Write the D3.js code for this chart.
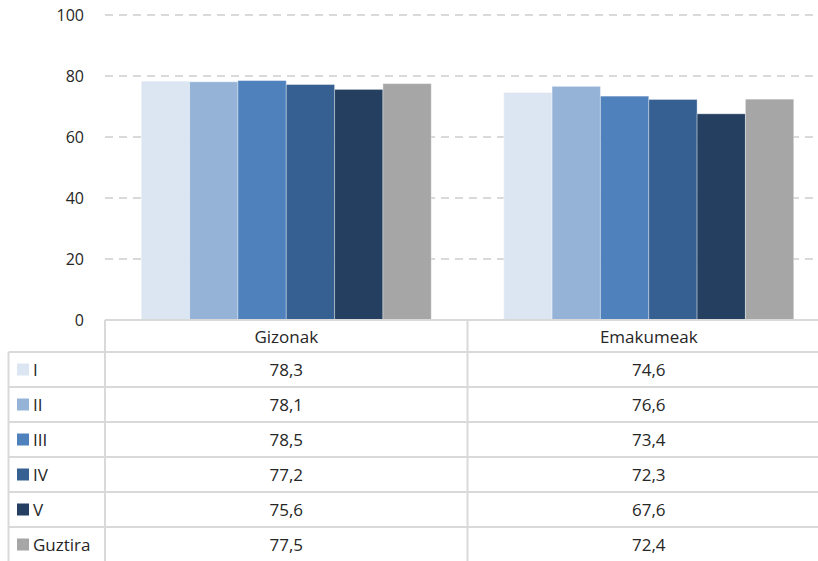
<!DOCTYPE html>
<html>
<head>
<meta charset="utf-8">
<script src="https://cdn.jsdelivr.net/npm/d3@7"></script>
<style>
  html, body { margin: 0; padding: 0; background: #fff; }
  svg { display: block; }
  text { font-family: "Open Sans", "Lato", sans-serif; fill: #262626; }
</style>
</head>
<body>
<svg id="chart" width="818" height="561"></svg>
<script>
const categories = ["Gizonak", "Emakumeak"];
const seriesNames = ["I", "II", "III", "IV", "V", "Guztira"];
const valuesI = [78.3, 74.6];
const valuesII = [78.1, 76.6];
const valuesIII = [78.5, 73.4];
const valuesIV = [77.2, 72.3];
const valuesV = [75.6, 67.6];
const valuesGuztira = [77.5, 72.4];
const yTicks = [0, 20, 40, 60, 80, 100];
const colors = ["#dce6f2", "#95b3d7", "#4f81bd", "#366092", "#243f60", "#a6a6a6"];

const seriesValues = [valuesI, valuesII, valuesIII, valuesIV, valuesV, valuesGuztira];
const series = seriesNames.map((n, i) => ({ name: n, values: seriesValues[i], color: colors[i] }));

const svg = d3.select("#chart");
const plotLeft = 105, plotRight = 830, plotTop = 15, plotBottom = 320;
const legendLeft = 8.5;
const headerH = 32, rowH = 35;
const gridColor = "#d9d9d9";
const fontFam = '"Open Sans", "Lato", sans-serif';

const x0 = d3.scaleBand().domain(categories).range([plotLeft, plotRight]).padding(0);
const bw = x0.bandwidth();
const x1 = d3.scaleBand().domain(seriesNames).range([bw * 0.1, bw * 0.9]).padding(0);
const y = d3.scaleLinear().domain([0, 100]).range([plotBottom, plotTop]);

// gridlines
svg.append("g").selectAll("line").data(yTicks.filter(t => t > 0)).join("line")
  .attr("x1", plotLeft).attr("x2", 818)
  .attr("y1", d => y(d)).attr("y2", d => y(d))
  .attr("stroke", gridColor).attr("stroke-width", 2)
  .attr("stroke-dasharray", "8,6");

// y axis labels
const yAxis = d3.axisLeft(y).tickValues(yTicks).tickSize(0).tickPadding(0);
const ga = svg.append("g").attr("transform", `translate(84,0)`).call(yAxis);
ga.select(".domain").remove();
ga.selectAll("text").style("font-size", "16px").style("font-family", fontFam).attr("fill", "#262626");

// bars
const groups = svg.append("g").selectAll("g").data(categories).join("g")
  .attr("transform", d => `translate(${x0(d)},0)`);
groups.selectAll("rect").data((c, ci) => series.map(s => ({ s, v: s.values[ci] }))).join("rect")
  .attr("x", d => x1(d.s.name))
  .attr("width", x1.bandwidth())
  .attr("y", d => y(d.v))
  .attr("height", d => y(0) - y(d.v))
  .attr("fill", d => d.s.color)
  .attr("stroke", "rgba(255,255,255,0.35)")
  .attr("stroke-width", 1);

// table
const tbl = svg.append("g");
const tableBottom = 561;
const rowTops = seriesNames.map((_, i) => plotBottom + headerH + i * rowH);
tbl.append("line").attr("x1", plotLeft).attr("x2", 818).attr("y1", plotBottom).attr("y2", plotBottom)
  .attr("stroke", gridColor).attr("stroke-width", 2);
tbl.selectAll("line.h").data(rowTops).join("line").attr("class", "h")
  .attr("x1", legendLeft).attr("x2", 818).attr("y1", d => d).attr("y2", d => d)
  .attr("stroke", gridColor).attr("stroke-width", 2);
tbl.append("line").attr("x1", legendLeft).attr("x2", legendLeft).attr("y1", rowTops[0]).attr("y2", tableBottom)
  .attr("stroke", gridColor).attr("stroke-width", 2);
tbl.selectAll("line.v").data(categories).join("line").attr("class", "v")
  .attr("x1", d => x0(d)).attr("x2", d => x0(d)).attr("y1", plotBottom).attr("y2", tableBottom)
  .attr("stroke", gridColor).attr("stroke-width", 2);

tbl.selectAll("text.hdr").data(categories).join("text").attr("class", "hdr")
  .attr("x", d => x0(d) + bw / 2).attr("y", plotBottom + headerH / 2)
  .attr("text-anchor", "middle").attr("dominant-baseline", "central")
  .style("font-size", "17px").text(d => d);

const leg = tbl.selectAll("g.leg").data(series).join("g").attr("class", "leg")
  .attr("transform", (d, i) => `translate(0,${rowTops[i]})`);
leg.append("rect").attr("x", 17).attr("y", rowH / 2 - 6).attr("width", 12).attr("height", 12)
  .attr("fill", d => d.color);
leg.append("text").attr("x", 33).attr("y", rowH / 2).attr("dominant-baseline", "central")
  .style("font-size", "17px").text(d => d.name);

const fmt = v => d3.format(".1f")(v).replace(".", ",");
series.forEach((s, i) => {
  tbl.append("g").selectAll("text").data(categories).join("text")
    .attr("x", d => x0(d) + bw / 2).attr("y", rowTops[i] + rowH / 2)
    .attr("text-anchor", "middle").attr("dominant-baseline", "central")
    .style("font-size", "17px").text((d, ci) => fmt(s.values[ci]));
});
</script>
</body>
</html>
